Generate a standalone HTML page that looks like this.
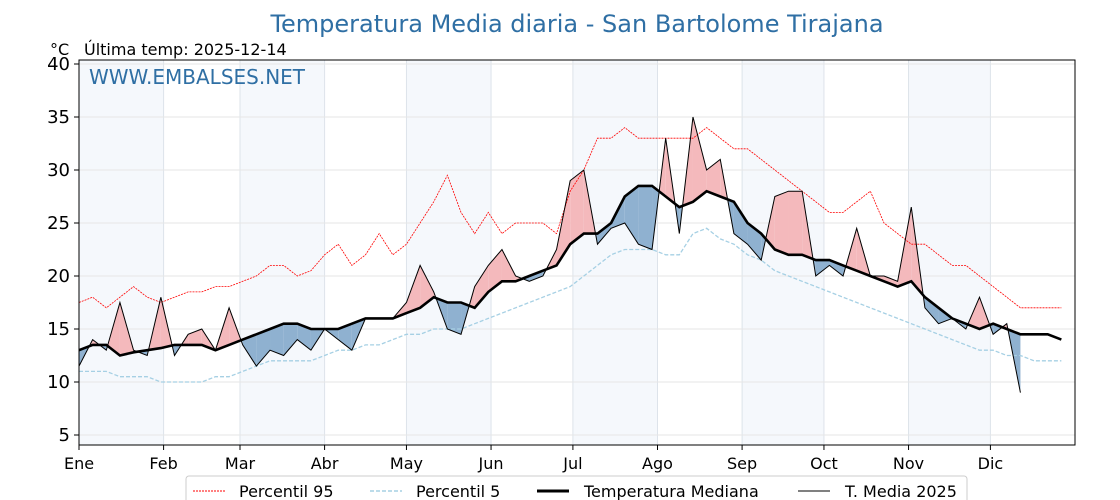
<!DOCTYPE html>
<html><head><meta charset="utf-8"><style>
html,body{margin:0;padding:0;background:#fff;width:1120px;height:500px;overflow:hidden}
svg text{font-family:"DejaVu Sans","Liberation Sans",sans-serif}
</style></head><body>
<svg id="chart" width="1120" height="500" xmlns="http://www.w3.org/2000/svg">
<text x="577" y="32" text-anchor="middle" font-size="24" fill="#2f6fa4">Temperatura Media diaria - San Bartolome Tirajana</text>
<text x="50" y="55" font-size="16" fill="#000">°C</text>
<text x="84" y="55" font-size="16" fill="#000">Última temp: 2025-12-14</text>
<g id="bands"></g><g id="grid"></g><g id="fills"></g><g id="lines"></g>
<text x="89" y="84" font-size="20" fill="#2f6fa4">WWW.EMBALSES.NET</text>
<rect x="79" y="60" width="996" height="385" fill="none" stroke="#000" stroke-width="1"/>
<g id="axes"></g>
<g>
<rect x="186" y="476" width="781" height="34" rx="3" fill="#fff" stroke="#ccc"/>
<g><line x1="193" y1="491" x2="225" y2="491" stroke="red" stroke-width="1" stroke-dasharray="2,1"/><text x="239" y="497" font-size="16">Percentil 95</text></g>
<g><line x1="370" y1="491" x2="402" y2="491" stroke="#a6d0e4" stroke-width="1.5" stroke-dasharray="4,2"/><text x="416" y="497" font-size="16">Percentil 5</text></g>
<g><line x1="537" y1="491" x2="569" y2="491" stroke="#000" stroke-width="3"/><text x="584" y="497" font-size="16">Temperatura Mediana</text></g>
<g><line x1="798" y1="491" x2="830" y2="491" stroke="#000" stroke-width="1"/><text x="845" y="497" font-size="16">T. Media 2025</text></g>
</g>
</svg>
<script>
const days=[0,5,10,15,20,25,30,35,40,45,50,55,60,65,70,75,80,85,90,95,100,105,110,115,120,125,130,135,140,145,150,155,160,165,170,175,180,185,190,195,200,205,210,215,220,225,230,235,240,245,250,255,260,265,270,275,280,285,290,295,300,305,310,315,320,325,330,335,340,345,350,355,360];
const median=[13,13.5,13.5,12.5,12.8,13,13.2,13.5,13.5,13.5,13,13.5,14,14.5,15,15.5,15.5,15,15,15,15.5,16,16,16,16.5,17,18,17.5,17.5,17,18.5,19.5,19.5,20,20.5,21,23,24,24,25,27.5,28.5,28.5,27.5,26.5,27,28,27.5,27,25,24,22.5,22,22,21.5,21.5,21,20.5,20,19.5,19,19.5,18,17,16,15.5,15,15.5,15,14.5,14.5,14.5,14];
const p95=[17.5,18,17,18,19,18,17.5,18,18.5,18.5,19,19,19.5,20,21,21,20,20.5,22,23,21,22,24,22,23,25,27,29.5,26,24,26,24,25,25,25,24,28,30,33,33,34,33,33,33,33,33,34,33,32,32,31,30,29,28,27,26,26,27,28,25,24,23,23,22,21,21,20,19,18,17,17,17,17];
const p5=[11,11,11,10.5,10.5,10.5,10,10,10,10,10.5,10.5,11,11.5,12,12,12,12,12.5,13,13,13.5,13.5,14,14.5,14.5,15,15,15,15.5,16,16.5,17,17.5,18,18.5,19,20,21,22,22.5,22.5,22.5,22,22,24,24.5,23.5,23,22,21.5,20.5,20,19.5,19,18.5,18,17.5,17,16.5,16,15.5,15,14.5,14,13.5,13,13,12.5,12.5,12,12,12];
const t2025=[11.5,14,13,17.5,13,12.5,18,12.5,14.5,15,13,17,13.5,11.5,13,12.5,14,13,15,14,13,16,16,16,17.5,21,18.5,15,14.5,19,21,22.5,20,19.5,20,22.5,29,30,23,24.5,25,23,22.5,33,24,35,30,31,24,23,21.5,27.5,28,28,20,21,20,24.5,20,20,19.5,26.5,17,15.5,16,15,18,14.5,15.5,9];
const monthLabels=["Ene","Feb","Mar","Abr","May","Jun","Jul","Ago","Sep","Oct","Nov","Dic"];
const monthStarts=[0,31,59,90,120,151,181,212,243,273,304,334];
const yTicks=[5,10,15,20,25,30,35,40];

const NS="http://www.w3.org/2000/svg";
const X=d=>79+d*(996/365);
const Y=v=>435-(v-5)*(371/35);
function mk(tag,attrs,parent){const e=document.createElementNS(NS,tag);for(const k in attrs)e.setAttribute(k,attrs[k]);document.getElementById(parent).appendChild(e);return e;}

monthStarts.forEach((d,i)=>{
  const end=i<11?monthStarts[i+1]:365;
  if(i%2===0){const r=mk('rect',{x:X(d),y:60,width:X(end)-X(d),height:385,fill:'#f5f8fc'},'bands');
    
    }
  const g=mk('line',{x1:X(d),x2:X(d),y1:60,y2:445,stroke:'#dde3ea','stroke-width':1},'grid');
  
  
  const t=mk('line',{x1:X(d),x2:X(d),y1:445,y2:450,stroke:'#000'},'axes');
  
  
  const l=mk('text',{x:X(d),y:469,'text-anchor':'middle','font-size':16},'axes');l.textContent=monthLabels[i];
  
  
});
yTicks.forEach(v=>{
  const g=mk('line',{x1:79,x2:1075,y1:Y(v),y2:Y(v),stroke:'#e6e6e6'},'grid');
  
  
  const t=mk('line',{x1:74,x2:79,y1:Y(v),y2:Y(v),stroke:'#000'},'axes');
  
  
  const l=mk('text',{x:70,y:Y(v)+6,'text-anchor':'end','font-size':18},'axes');l.textContent=v;
  
  
});
for(let i=0;i<t2025.length-1;i++){
  const d0=days[i],d1=days[i+1],a0=t2025[i]-median[i],a1=t2025[i+1]-median[i+1];
  const segs=[];
  if(a0*a1<0){const f=a0/(a0-a1),dc=d0+f*(d1-d0),vc=median[i]+f*(median[i+1]-median[i]);
    segs.push([[d0,t2025[i]],[dc,vc],[d0,median[i]],a0]);
    segs.push([[dc,vc],[d1,t2025[i+1]],[d1,median[i+1]],a1]);}
  else segs.push([[d0,t2025[i]],[d1,t2025[i+1]],[d1,median[i+1]],[d0,median[i]],a0+a1]);
  segs.forEach(s=>{const sign=s.pop();
    const p=mk('polygon',{points:s.map(q=>X(q[0])+','+Y(q[1])).join(' '),fill:sign>=0?'#f4b9bc':'#8fb1d0'},'fills');
    
    });
}
function line(vals,style,name){
  const pts=vals.map((v,i)=>X(days[i])+','+Y(v)).join(' ');
  const e=mk('polyline',Object.assign({points:pts,fill:'none'},style),'lines');
  
  
}
line(p95,{stroke:'red','stroke-width':0.8,'stroke-dasharray':'2,1'},'p95-line');
line(p5,{stroke:'#a6d0e4','stroke-width':1.3,'stroke-dasharray':'4,2'},'p5-line');
line(median,{stroke:'#000','stroke-width':2.6},'median-line');
line(t2025,{stroke:'#000','stroke-width':1},'t2025-line');
</script>
</body></html>
